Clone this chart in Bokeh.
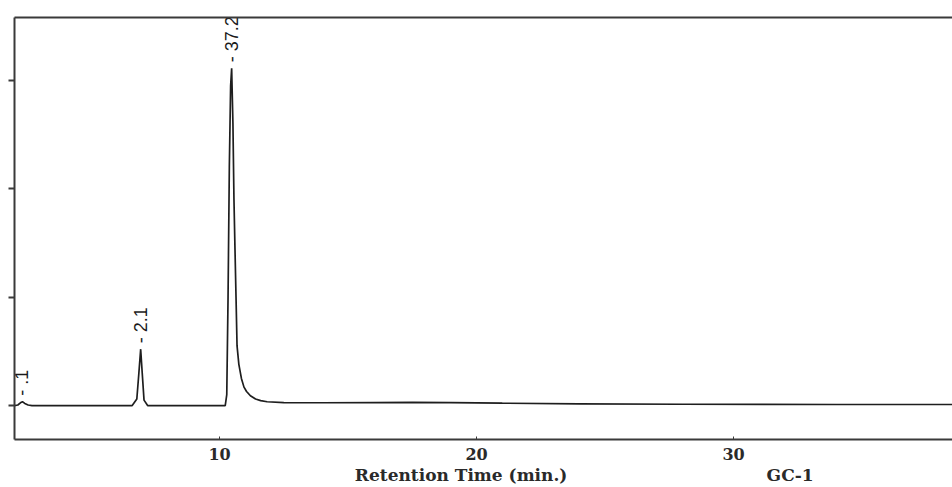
from bokeh.plotting import figure
from bokeh.models import Range1d, LinearAxis, FixedTicker, ColumnDataSource
from bokeh.core.properties import value
from bokeh.embed import file_html
from bokeh.resources import INLINE

# Chromatogram trace (retention time in min, detector signal in arbitrary units)
rt_min = [2.02, 2.15, 2.25, 2.33, 2.42, 2.55, 2.7,
          6.6, 6.78, 6.86, 6.93, 6.99, 7.06, 7.2,
          10.22, 10.28, 10.33, 10.38, 10.43, 10.47, 10.52, 10.56, 10.60, 10.64, 10.68,
          10.75, 10.85, 10.95, 11.05, 11.2, 11.4, 11.6, 11.85, 12.5,
          14.0, 16.0, 17.5, 19.0, 21.0, 24.0, 28.0, 34.0, 38.5]
signal = [0.0, 0.005, 0.025, 0.035, 0.02, 0.005, 0.0,
          0.0, 0.06, 0.3, 0.52, 0.3, 0.05, 0.0,
          0.0, 0.1, 1.0, 2.2, 2.95, 3.11, 2.6, 1.9, 1.44, 1.0, 0.55,
          0.38, 0.25, 0.17, 0.13, 0.09, 0.06, 0.045, 0.035, 0.028,
          0.026, 0.028, 0.03, 0.028, 0.022, 0.016, 0.012, 0.01, 0.01]

# Peak annotations (area %)
peak_rt = [2.33, 6.93, 10.47]
peak_height = [0.035, 0.52, 3.11]
peak_label = ["- .1", "- 2.1", "- 37.2"]

x_ticks = [10, 20, 30]
y_ticks = [0, 1, 2, 3]
x_title = "Retention Time (min.)"
run_name = "GC-1"
caption_pos = [19.4, 32.2]   # where the title and run name sit along the time axis

p = figure(width=952, height=487, output_backend="svg", toolbar_location=None,
           x_range=Range1d(2.02, 38.52), y_range=Range1d(-0.313, 3.579),
           x_axis_location=None, y_axis_location=None,
           min_border_left=14, min_border_right=0, min_border_top=17, min_border_bottom=47)
p.grid.visible = False
p.outline_line_color = None
p.background_fill_color = "white"

axis_color = "#3a3a3a"
left = LinearAxis(ticker=FixedTicker(ticks=y_ticks), major_tick_out=6, major_tick_in=0,
                  minor_tick_line_color=None, major_label_overrides={t: "" for t in y_ticks},
                  major_label_standoff=0, axis_line_width=2, axis_line_color=axis_color,
                  major_tick_line_width=2, major_tick_line_color=axis_color)
p.add_layout(left, "left")

bottom = LinearAxis(ticker=FixedTicker(ticks=x_ticks), major_tick_in=3, major_tick_out=0,
                    minor_tick_line_color=None, axis_line_width=2, axis_line_color=axis_color,
                    major_tick_line_color=axis_color, major_label_standoff=8,
                    major_label_text_font="DejaVu Serif", major_label_text_font_size="16px",
                    major_label_text_font_style="bold", major_label_text_color="#2a2a2a")
p.add_layout(bottom, "below")

captions = LinearAxis(ticker=FixedTicker(ticks=caption_pos),
                      major_label_overrides={caption_pos[0]: x_title, caption_pos[1]: run_name},
                      axis_line_color=None, major_tick_line_color=None, minor_tick_line_color=None,
                      major_tick_out=0, major_tick_in=0, major_label_standoff=2,
                      major_label_text_font="DejaVu Serif", major_label_text_font_size="17px",
                      major_label_text_font_style="bold", major_label_text_color="#2a2a2a")
p.add_layout(captions, "below")

top = LinearAxis(ticker=FixedTicker(ticks=[]), major_tick_line_color=None, minor_tick_line_color=None,
                 major_tick_out=0, major_tick_in=0, major_label_standoff=0,
                 axis_line_width=2, axis_line_color=axis_color)
p.add_layout(top, "above")

src = ColumnDataSource(dict(t=rt_min, s=signal))
p.line("t", "s", source=src, line_color="#1e1e1e", line_width=1.7)

lab = ColumnDataSource(dict(t=peak_rt, h=peak_height, txt=peak_label))
p.text("t", "h", text="txt", source=lab, angle=1.5708, text_align="left", text_baseline="middle",
       y_offset=-6, text_font=value("Liberation Sans"), text_font_size="18px", text_color="#1a1a1a")

open("out.html", "w").write(file_html(p, INLINE))
